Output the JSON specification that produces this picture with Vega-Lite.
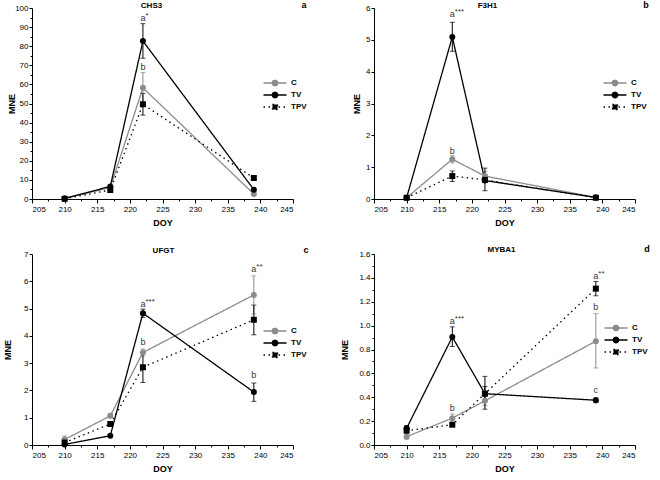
{
  "$schema": "https://vega.github.io/schema/vega-lite/v6.json",
  "padding": {"left": 3, "top": 1, "right": 0, "bottom": 0},
  "background": "white",
  "datasets": {
    "d": [
      {"gene": "CHS3", "series": "C", "doy": 210, "mne": 0.3},
      {"gene": "CHS3", "series": "C", "doy": 217, "mne": 6.0},
      {"gene": "CHS3", "series": "C", "doy": 222, "mne": 58.2, "lo": 50.2, "hi": 66.2},
      {"gene": "CHS3", "series": "C", "doy": 239, "mne": 2.6},
      {"gene": "CHS3", "series": "TV", "doy": 210, "mne": 0.3},
      {"gene": "CHS3", "series": "TV", "doy": 217, "mne": 6.6},
      {"gene": "CHS3", "series": "TV", "doy": 222, "mne": 82.7, "lo": 73.7, "hi": 91.8},
      {"gene": "CHS3", "series": "TV", "doy": 239, "mne": 4.9},
      {"gene": "CHS3", "series": "TPV", "doy": 210, "mne": 0.1},
      {"gene": "CHS3", "series": "TPV", "doy": 217, "mne": 4.7},
      {"gene": "CHS3", "series": "TPV", "doy": 222, "mne": 49.6, "lo": 43.9, "hi": 55.3},
      {"gene": "CHS3", "series": "TPV", "doy": 239, "mne": 11.0},
      {"gene": "F3H1", "series": "C", "doy": 210, "mne": 0.04},
      {"gene": "F3H1", "series": "C", "doy": 217, "mne": 1.25, "lo": 1.13, "hi": 1.36},
      {"gene": "F3H1", "series": "C", "doy": 222, "mne": 0.72, "lo": 0.58, "hi": 0.87},
      {"gene": "F3H1", "series": "C", "doy": 239, "mne": 0.05},
      {"gene": "F3H1", "series": "TV", "doy": 210, "mne": 0.04},
      {"gene": "F3H1", "series": "TV", "doy": 217, "mne": 5.09, "lo": 4.64, "hi": 5.55},
      {"gene": "F3H1", "series": "TV", "doy": 222, "mne": 0.58, "lo": 0.26, "hi": 0.97},
      {"gene": "F3H1", "series": "TV", "doy": 239, "mne": 0.05},
      {"gene": "F3H1", "series": "TPV", "doy": 210, "mne": 0.04},
      {"gene": "F3H1", "series": "TPV", "doy": 217, "mne": 0.72, "lo": 0.55, "hi": 0.88},
      {"gene": "F3H1", "series": "TPV", "doy": 222, "mne": 0.6},
      {"gene": "F3H1", "series": "TPV", "doy": 239, "mne": 0.04},
      {"gene": "UFGT", "series": "C", "doy": 210, "mne": 0.2, "lo": 0.07, "hi": 0.33},
      {"gene": "UFGT", "series": "C", "doy": 217, "mne": 1.07, "lo": 1.0, "hi": 1.14},
      {"gene": "UFGT", "series": "C", "doy": 222, "mne": 3.39, "lo": 3.26, "hi": 3.52},
      {"gene": "UFGT", "series": "C", "doy": 239, "mne": 5.5, "lo": 4.8, "hi": 6.2},
      {"gene": "UFGT", "series": "TV", "doy": 210, "mne": 0.02},
      {"gene": "UFGT", "series": "TV", "doy": 217, "mne": 0.34},
      {"gene": "UFGT", "series": "TV", "doy": 222, "mne": 4.83, "lo": 4.68, "hi": 4.98},
      {"gene": "UFGT", "series": "TV", "doy": 239, "mne": 1.94, "lo": 1.6, "hi": 2.27},
      {"gene": "UFGT", "series": "TPV", "doy": 210, "mne": 0.09},
      {"gene": "UFGT", "series": "TPV", "doy": 217, "mne": 0.77},
      {"gene": "UFGT", "series": "TPV", "doy": 222, "mne": 2.85, "lo": 2.29, "hi": 3.4},
      {"gene": "UFGT", "series": "TPV", "doy": 239, "mne": 4.59, "lo": 4.04, "hi": 5.13},
      {"gene": "MYBA1", "series": "C", "doy": 210, "mne": 0.07, "lo": 0.05, "hi": 0.09},
      {"gene": "MYBA1", "series": "C", "doy": 217, "mne": 0.225, "lo": 0.19, "hi": 0.26},
      {"gene": "MYBA1", "series": "C", "doy": 222, "mne": 0.37, "lo": 0.33, "hi": 0.41},
      {"gene": "MYBA1", "series": "C", "doy": 239, "mne": 0.87, "lo": 0.645, "hi": 1.1},
      {"gene": "MYBA1", "series": "TV", "doy": 210, "mne": 0.14, "lo": 0.12, "hi": 0.16},
      {"gene": "MYBA1", "series": "TV", "doy": 217, "mne": 0.905, "lo": 0.825, "hi": 0.99},
      {"gene": "MYBA1", "series": "TV", "doy": 222, "mne": 0.43, "lo": 0.37, "hi": 0.49},
      {"gene": "MYBA1", "series": "TV", "doy": 239, "mne": 0.375, "lo": 0.355, "hi": 0.395},
      {"gene": "MYBA1", "series": "TPV", "doy": 210, "mne": 0.12, "lo": 0.08, "hi": 0.16},
      {"gene": "MYBA1", "series": "TPV", "doy": 217, "mne": 0.17},
      {"gene": "MYBA1", "series": "TPV", "doy": 222, "mne": 0.43, "lo": 0.3, "hi": 0.575},
      {"gene": "MYBA1", "series": "TPV", "doy": 239, "mne": 1.31, "lo": 1.25, "hi": 1.37}
    ],
    "ann": [
      {"gene": "CHS3", "doy": 222, "ty": 94.8, "letter": "a", "stars": "*"},
      {"gene": "CHS3", "doy": 222, "ty": 69, "letter": "b", "stars": ""},
      {"gene": "F3H1", "doy": 217, "ty": 5.81, "letter": "a", "stars": "***"},
      {"gene": "F3H1", "doy": 217, "ty": 1.52, "letter": "b", "stars": ""},
      {"gene": "UFGT", "doy": 222, "ty": 5.17, "letter": "a", "stars": "***"},
      {"gene": "UFGT", "doy": 222, "ty": 3.76, "letter": "b", "stars": ""},
      {"gene": "UFGT", "doy": 239, "ty": 6.44, "letter": "a", "stars": "**"},
      {"gene": "UFGT", "doy": 239, "ty": 2.57, "letter": "b", "stars": ""},
      {"gene": "MYBA1", "doy": 217, "ty": 1.04, "letter": "a", "stars": "***"},
      {"gene": "MYBA1", "doy": 217, "ty": 0.31, "letter": "b", "stars": ""},
      {"gene": "MYBA1", "doy": 239, "ty": 1.415, "letter": "a", "stars": "**"},
      {"gene": "MYBA1", "doy": 239, "ty": 1.16, "letter": "b", "stars": ""},
      {"gene": "MYBA1", "doy": 239, "ty": 0.46, "letter": "c", "stars": ""}
    ]
  },
  "resolve": {
    "scale": {"color": "independent", "strokeDash": "independent"},
    "legend": {"color": "independent", "strokeDash": "independent"}
  },
  "spacing": 18,
  "vconcat": [
    {
      "spacing": 45,
      "resolve": {
        "scale": {"color": "independent", "strokeDash": "independent"},
        "legend": {"color": "independent", "strokeDash": "independent"}
      },
      "hconcat": [
        {
          "width": 261, "height": 191,
          "title": {"text": "CHS3", "dx": -11},
          "data": {"name": "d"},
          "layer": [
            {
              "transform": [{"filter": "datum.gene === 'CHS3'"}],
              "mark": {"type": "line", "strokeWidth": 1.3},
              "encoding": {
                "x": {"field": "doy", "type": "quantitative", "title": "DOY",
                  "scale": {"domain": [205, 245], "nice": false, "zero": false},
                  "axis": {"values": [205, 207.5, 210, 212.5, 215, 217.5, 220, 222.5, 225, 227.5, 230, 232.5, 235, 237.5, 240, 242.5, 245],
                    "format": "d", "tickCount": 100, "labelOverlap": false,
                    "labelExpr": "datum.value % 5 === 0 ? datum.label : ''",
                    "tickSize": {"condition": {"test": "datum.value % 5 === 0", "value": 4}, "value": 2}}},
                "y": {"field": "mne", "type": "quantitative", "title": "MNE",
                  "scale": {"domain": [0, 100], "nice": false},
                  "axis": {"values": [0, 5, 10, 15, 20, 25, 30, 35, 40, 45, 50, 55, 60, 65, 70, 75, 80, 85, 90, 95, 100],
                    "format": "d", "tickCount": 100, "labelOverlap": false,
                    "labelExpr": "datum.value % 10 === 0 ? datum.label : ''",
                    "tickSize": {"condition": {"test": "datum.value % 10 === 0", "value": 3}, "value": 2},
                    "titlePadding": -2}},
                "color": {"field": "series", "type": "nominal",
                  "scale": {"domain": ["C", "TV", "TPV"], "range": ["#8c8c8c", "#000000", "#000000"]},
                  "legend": {"title": null, "orient": "none", "legendX": 237, "legendY": 69,
                    "encode": {"symbols": {"update": {
                      "shape": [{"test": "datum.value === 'TPV'", "value": "M-2.3,0H2.3M-0.5,-0.5H0.5V0.5H-0.5Z"}, {"value": "M-2.3,0H2.3M-0.55,0A0.55,0.55,0,1,0,0.55,0A0.55,0.55,0,1,0,-0.55,0Z"}],
                      "fill": [{"test": "datum.value === 'C'", "value": "#8c8c8c"}, {"value": "#000000"}]}}}}},
                "strokeDash": {"field": "series", "type": "nominal",
                  "scale": {"domain": ["C", "TV", "TPV"], "range": [[1, 0], [1, 0], [1.5, 3.5]]},
                  "legend": {"title": null, "orient": "none", "legendX": 237, "legendY": 69}}
              }
            },
            {
              "transform": [{"filter": "datum.gene === 'CHS3' && isValid(datum.lo)"}],
              "mark": {"type": "errorbar", "ticks": true},
              "encoding": {
                "x": {"field": "doy", "type": "quantitative", "title": "DOY"},
                "y": {"field": "lo", "type": "quantitative", "title": "MNE"},
                "y2": {"field": "hi"},
                "color": {"field": "series", "type": "nominal", "legend": null}
              }
            },
            {
              "transform": [{"filter": "datum.gene === 'CHS3' && datum.series !== 'TPV'"}],
              "mark": {"type": "point", "shape": "circle", "filled": true, "opacity": 1, "size": 36},
              "encoding": {
                "x": {"field": "doy", "type": "quantitative", "title": "DOY"},
                "y": {"field": "mne", "type": "quantitative", "title": "MNE"},
                "color": {"field": "series", "type": "nominal", "legend": null}
              }
            },
            {
              "transform": [{"filter": "datum.gene === 'CHS3' && datum.series === 'TPV'"}],
              "mark": {"type": "point", "shape": "square", "filled": true, "opacity": 1, "size": 36, "color": "#000000"},
              "encoding": {
                "x": {"field": "doy", "type": "quantitative", "title": "DOY"},
                "y": {"field": "mne", "type": "quantitative", "title": "MNE"}
              }
            },
            {
              "data": {"name": "ann"},
              "transform": [{"filter": "datum.gene === 'CHS3'"}],
              "mark": {"type": "text", "font": "Liberation Sans", "fontSize": 9, "color": "#333333", "baseline": "middle"},
              "encoding": {
                "x": {"field": "doy", "type": "quantitative", "title": "DOY"},
                "y": {"field": "ty", "type": "quantitative", "title": "MNE"},
                "text": {"field": "letter"}
              }
            },
            {
              "data": {"name": "ann"},
              "transform": [{"filter": "datum.gene === 'CHS3' && datum.stars !== ''"}],
              "mark": {"type": "text", "font": "Liberation Sans", "fontSize": 8, "color": "#333333", "baseline": "middle", "align": "left", "dx": 2.5, "dy": -2},
              "encoding": {
                "x": {"field": "doy", "type": "quantitative", "title": "DOY"},
                "y": {"field": "ty", "type": "quantitative", "title": "MNE"},
                "text": {"field": "stars"}
              }
            },
            {
              "data": {"values": [{"panel": "a", "px": 245, "py": 100}]},
              "mark": {"type": "text", "font": "Liberation Sans", "fontSize": 9, "fontWeight": "bold", "color": "#000000", "baseline": "middle", "dx": 11, "dy": -3},
              "encoding": {
                "x": {"field": "px", "type": "quantitative", "title": "DOY"},
                "y": {"field": "py", "type": "quantitative", "title": "MNE"},
                "text": {"field": "panel"}
              }
            }
          ]
        },
        {
          "width": 261, "height": 191,
          "title": {"text": "F3H1", "dx": -17},
          "data": {"name": "d"},
          "layer": [
            {
              "transform": [{"filter": "datum.gene === 'F3H1'"}],
              "mark": {"type": "line", "strokeWidth": 1.3},
              "encoding": {
                "x": {"field": "doy", "type": "quantitative", "title": "DOY",
                  "scale": {"domain": [205, 245], "nice": false, "zero": false},
                  "axis": {"values": [205, 207.5, 210, 212.5, 215, 217.5, 220, 222.5, 225, 227.5, 230, 232.5, 235, 237.5, 240, 242.5, 245],
                    "format": "d", "tickCount": 100, "labelOverlap": false,
                    "labelExpr": "datum.value % 5 === 0 ? datum.label : ''",
                    "tickSize": {"condition": {"test": "datum.value % 5 === 0", "value": 4}, "value": 2}}},
                "y": {"field": "mne", "type": "quantitative", "title": "MNE",
                  "scale": {"domain": [0, 6], "nice": false},
                  "axis": {"values": [0, 0.5, 1, 1.5, 2, 2.5, 3, 3.5, 4, 4.5, 5, 5.5, 6],
                    "format": "d", "tickCount": 100, "labelOverlap": false,
                    "labelExpr": "datum.value % 1 === 0 ? datum.label : ''",
                    "tickSize": {"condition": {"test": "datum.value % 1 === 0", "value": 3}, "value": 2},
                    "titlePadding": 4}},
                "color": {"field": "series", "type": "nominal",
                  "scale": {"domain": ["C", "TV", "TPV"], "range": ["#8c8c8c", "#000000", "#000000"]},
                  "legend": {"title": null, "orient": "none", "legendX": 235, "legendY": 69,
                    "encode": {"symbols": {"update": {
                      "shape": [{"test": "datum.value === 'TPV'", "value": "M-2.3,0H2.3M-0.5,-0.5H0.5V0.5H-0.5Z"}, {"value": "M-2.3,0H2.3M-0.55,0A0.55,0.55,0,1,0,0.55,0A0.55,0.55,0,1,0,-0.55,0Z"}],
                      "fill": [{"test": "datum.value === 'C'", "value": "#8c8c8c"}, {"value": "#000000"}]}}}}},
                "strokeDash": {"field": "series", "type": "nominal",
                  "scale": {"domain": ["C", "TV", "TPV"], "range": [[1, 0], [1, 0], [1.5, 3.5]]},
                  "legend": {"title": null, "orient": "none", "legendX": 235, "legendY": 69}}
              }
            },
            {
              "transform": [{"filter": "datum.gene === 'F3H1' && isValid(datum.lo)"}],
              "mark": {"type": "errorbar", "ticks": true},
              "encoding": {
                "x": {"field": "doy", "type": "quantitative", "title": "DOY"},
                "y": {"field": "lo", "type": "quantitative", "title": "MNE"},
                "y2": {"field": "hi"},
                "color": {"field": "series", "type": "nominal", "legend": null}
              }
            },
            {
              "transform": [{"filter": "datum.gene === 'F3H1' && datum.series !== 'TPV'"}],
              "mark": {"type": "point", "shape": "circle", "filled": true, "opacity": 1, "size": 36},
              "encoding": {
                "x": {"field": "doy", "type": "quantitative", "title": "DOY"},
                "y": {"field": "mne", "type": "quantitative", "title": "MNE"},
                "color": {"field": "series", "type": "nominal", "legend": null}
              }
            },
            {
              "transform": [{"filter": "datum.gene === 'F3H1' && datum.series === 'TPV'"}],
              "mark": {"type": "point", "shape": "square", "filled": true, "opacity": 1, "size": 36, "color": "#000000"},
              "encoding": {
                "x": {"field": "doy", "type": "quantitative", "title": "DOY"},
                "y": {"field": "mne", "type": "quantitative", "title": "MNE"}
              }
            },
            {
              "data": {"name": "ann"},
              "transform": [{"filter": "datum.gene === 'F3H1'"}],
              "mark": {"type": "text", "font": "Liberation Sans", "fontSize": 9, "color": "#333333", "baseline": "middle"},
              "encoding": {
                "x": {"field": "doy", "type": "quantitative", "title": "DOY"},
                "y": {"field": "ty", "type": "quantitative", "title": "MNE"},
                "text": {"field": "letter"}
              }
            },
            {
              "data": {"name": "ann"},
              "transform": [{"filter": "datum.gene === 'F3H1' && datum.stars !== ''"}],
              "mark": {"type": "text", "font": "Liberation Sans", "fontSize": 8, "color": "#333333", "baseline": "middle", "align": "left", "dx": 2.5, "dy": -2},
              "encoding": {
                "x": {"field": "doy", "type": "quantitative", "title": "DOY"},
                "y": {"field": "ty", "type": "quantitative", "title": "MNE"},
                "text": {"field": "stars"}
              }
            },
            {
              "data": {"values": [{"panel": "b", "px": 245, "py": 6}]},
              "mark": {"type": "text", "font": "Liberation Sans", "fontSize": 9, "fontWeight": "bold", "color": "#000000", "baseline": "middle", "dx": 11, "dy": -3},
              "encoding": {
                "x": {"field": "px", "type": "quantitative", "title": "DOY"},
                "y": {"field": "py", "type": "quantitative", "title": "MNE"},
                "text": {"field": "panel"}
              }
            }
          ]
        }
      ]
    },
    {
      "spacing": 31,
      "resolve": {
        "scale": {"color": "independent", "strokeDash": "independent"},
        "legend": {"color": "independent", "strokeDash": "independent"}
      },
      "hconcat": [
        {
          "width": 261, "height": 191,
          "title": {"text": "UFGT", "dx": 1},
          "data": {"name": "d"},
          "layer": [
            {
              "transform": [{"filter": "datum.gene === 'UFGT'"}],
              "mark": {"type": "line", "strokeWidth": 1.3},
              "encoding": {
                "x": {"field": "doy", "type": "quantitative", "title": "DOY",
                  "scale": {"domain": [205, 245], "nice": false, "zero": false},
                  "axis": {"values": [205, 207.5, 210, 212.5, 215, 217.5, 220, 222.5, 225, 227.5, 230, 232.5, 235, 237.5, 240, 242.5, 245],
                    "format": "d", "tickCount": 100, "labelOverlap": false,
                    "labelExpr": "datum.value % 5 === 0 ? datum.label : ''",
                    "tickSize": {"condition": {"test": "datum.value % 5 === 0", "value": 4}, "value": 2}}},
                "y": {"field": "mne", "type": "quantitative", "title": "MNE",
                  "scale": {"domain": [0, 7], "nice": false},
                  "axis": {"values": [0, 0.5, 1, 1.5, 2, 2.5, 3, 3.5, 4, 4.5, 5, 5.5, 6, 6.5, 7],
                    "format": "d", "tickCount": 100, "labelOverlap": false,
                    "labelExpr": "datum.value % 1 === 0 ? datum.label : ''",
                    "tickSize": {"condition": {"test": "datum.value % 1 === 0", "value": 3}, "value": 2},
                    "titlePadding": 11}},
                "color": {"field": "series", "type": "nominal",
                  "scale": {"domain": ["C", "TV", "TPV"], "range": ["#8c8c8c", "#000000", "#000000"]},
                  "legend": {"title": null, "orient": "none", "legendX": 237, "legendY": 71,
                    "encode": {"symbols": {"update": {
                      "shape": [{"test": "datum.value === 'TPV'", "value": "M-2.3,0H2.3M-0.5,-0.5H0.5V0.5H-0.5Z"}, {"value": "M-2.3,0H2.3M-0.55,0A0.55,0.55,0,1,0,0.55,0A0.55,0.55,0,1,0,-0.55,0Z"}],
                      "fill": [{"test": "datum.value === 'C'", "value": "#8c8c8c"}, {"value": "#000000"}]}}}}},
                "strokeDash": {"field": "series", "type": "nominal",
                  "scale": {"domain": ["C", "TV", "TPV"], "range": [[1, 0], [1, 0], [1.5, 3.5]]},
                  "legend": {"title": null, "orient": "none", "legendX": 237, "legendY": 71}}
              }
            },
            {
              "transform": [{"filter": "datum.gene === 'UFGT' && isValid(datum.lo)"}],
              "mark": {"type": "errorbar", "ticks": true},
              "encoding": {
                "x": {"field": "doy", "type": "quantitative", "title": "DOY"},
                "y": {"field": "lo", "type": "quantitative", "title": "MNE"},
                "y2": {"field": "hi"},
                "color": {"field": "series", "type": "nominal", "legend": null}
              }
            },
            {
              "transform": [{"filter": "datum.gene === 'UFGT' && datum.series !== 'TPV'"}],
              "mark": {"type": "point", "shape": "circle", "filled": true, "opacity": 1, "size": 36},
              "encoding": {
                "x": {"field": "doy", "type": "quantitative", "title": "DOY"},
                "y": {"field": "mne", "type": "quantitative", "title": "MNE"},
                "color": {"field": "series", "type": "nominal", "legend": null}
              }
            },
            {
              "transform": [{"filter": "datum.gene === 'UFGT' && datum.series === 'TPV'"}],
              "mark": {"type": "point", "shape": "square", "filled": true, "opacity": 1, "size": 36, "color": "#000000"},
              "encoding": {
                "x": {"field": "doy", "type": "quantitative", "title": "DOY"},
                "y": {"field": "mne", "type": "quantitative", "title": "MNE"}
              }
            },
            {
              "data": {"name": "ann"},
              "transform": [{"filter": "datum.gene === 'UFGT'"}],
              "mark": {"type": "text", "font": "Liberation Sans", "fontSize": 9, "color": "#333333", "baseline": "middle"},
              "encoding": {
                "x": {"field": "doy", "type": "quantitative", "title": "DOY"},
                "y": {"field": "ty", "type": "quantitative", "title": "MNE"},
                "text": {"field": "letter"}
              }
            },
            {
              "data": {"name": "ann"},
              "transform": [{"filter": "datum.gene === 'UFGT' && datum.stars !== ''"}],
              "mark": {"type": "text", "font": "Liberation Sans", "fontSize": 8, "color": "#333333", "baseline": "middle", "align": "left", "dx": 2.5, "dy": -2},
              "encoding": {
                "x": {"field": "doy", "type": "quantitative", "title": "DOY"},
                "y": {"field": "ty", "type": "quantitative", "title": "MNE"},
                "text": {"field": "stars"}
              }
            },
            {
              "data": {"values": [{"panel": "c", "px": 245, "py": 7}]},
              "mark": {"type": "text", "font": "Liberation Sans", "fontSize": 9, "fontWeight": "bold", "color": "#000000", "baseline": "middle", "dx": 13, "dy": -4},
              "encoding": {
                "x": {"field": "px", "type": "quantitative", "title": "DOY"},
                "y": {"field": "py", "type": "quantitative", "title": "MNE"},
                "text": {"field": "panel"}
              }
            }
          ]
        },
        {
          "width": 261, "height": 191,
          "title": {"text": "MYBA1", "dx": -3},
          "data": {"name": "d"},
          "layer": [
            {
              "transform": [{"filter": "datum.gene === 'MYBA1'"}],
              "mark": {"type": "line", "strokeWidth": 1.3},
              "encoding": {
                "x": {"field": "doy", "type": "quantitative", "title": "DOY",
                  "scale": {"domain": [205, 245], "nice": false, "zero": false},
                  "axis": {"values": [205, 207.5, 210, 212.5, 215, 217.5, 220, 222.5, 225, 227.5, 230, 232.5, 235, 237.5, 240, 242.5, 245],
                    "format": "d", "tickCount": 100, "labelOverlap": false,
                    "labelExpr": "datum.value % 5 === 0 ? datum.label : ''",
                    "tickSize": {"condition": {"test": "datum.value % 5 === 0", "value": 4}, "value": 2}}},
                "y": {"field": "mne", "type": "quantitative", "title": "MNE",
                  "scale": {"domain": [0, 1.6], "nice": false},
                  "axis": {"values": [0, 0.1, 0.2, 0.3, 0.4, 0.5, 0.6, 0.7, 0.8, 0.9, 1.0, 1.1, 1.2, 1.3, 1.4, 1.5, 1.6],
                    "format": ".1f", "tickCount": 100, "labelOverlap": false,
                    "labelExpr": "round(datum.value * 10) % 2 === 0 ? datum.label : ''",
                    "tickSize": {"condition": {"test": "round(datum.value * 10) % 2 === 0", "value": 3}, "value": 2},
                    "titlePadding": 9}},
                "color": {"field": "series", "type": "nominal",
                  "scale": {"domain": ["C", "TV", "TPV"], "range": ["#8c8c8c", "#000000", "#000000"]},
                  "legend": {"title": null, "orient": "none", "legendX": 236, "legendY": 68,
                    "encode": {"symbols": {"update": {
                      "shape": [{"test": "datum.value === 'TPV'", "value": "M-2.3,0H2.3M-0.5,-0.5H0.5V0.5H-0.5Z"}, {"value": "M-2.3,0H2.3M-0.55,0A0.55,0.55,0,1,0,0.55,0A0.55,0.55,0,1,0,-0.55,0Z"}],
                      "fill": [{"test": "datum.value === 'C'", "value": "#8c8c8c"}, {"value": "#000000"}]}}}}},
                "strokeDash": {"field": "series", "type": "nominal",
                  "scale": {"domain": ["C", "TV", "TPV"], "range": [[1, 0], [1, 0], [1.5, 3.5]]},
                  "legend": {"title": null, "orient": "none", "legendX": 236, "legendY": 68}}
              }
            },
            {
              "transform": [{"filter": "datum.gene === 'MYBA1' && isValid(datum.lo)"}],
              "mark": {"type": "errorbar", "ticks": true},
              "encoding": {
                "x": {"field": "doy", "type": "quantitative", "title": "DOY"},
                "y": {"field": "lo", "type": "quantitative", "title": "MNE"},
                "y2": {"field": "hi"},
                "color": {"field": "series", "type": "nominal", "legend": null}
              }
            },
            {
              "transform": [{"filter": "datum.gene === 'MYBA1' && datum.series !== 'TPV'"}],
              "mark": {"type": "point", "shape": "circle", "filled": true, "opacity": 1, "size": 36},
              "encoding": {
                "x": {"field": "doy", "type": "quantitative", "title": "DOY"},
                "y": {"field": "mne", "type": "quantitative", "title": "MNE"},
                "color": {"field": "series", "type": "nominal", "legend": null}
              }
            },
            {
              "transform": [{"filter": "datum.gene === 'MYBA1' && datum.series === 'TPV'"}],
              "mark": {"type": "point", "shape": "square", "filled": true, "opacity": 1, "size": 36, "color": "#000000"},
              "encoding": {
                "x": {"field": "doy", "type": "quantitative", "title": "DOY"},
                "y": {"field": "mne", "type": "quantitative", "title": "MNE"}
              }
            },
            {
              "data": {"name": "ann"},
              "transform": [{"filter": "datum.gene === 'MYBA1'"}],
              "mark": {"type": "text", "font": "Liberation Sans", "fontSize": 9, "color": "#333333", "baseline": "middle"},
              "encoding": {
                "x": {"field": "doy", "type": "quantitative", "title": "DOY"},
                "y": {"field": "ty", "type": "quantitative", "title": "MNE"},
                "text": {"field": "letter"}
              }
            },
            {
              "data": {"name": "ann"},
              "transform": [{"filter": "datum.gene === 'MYBA1' && datum.stars !== ''"}],
              "mark": {"type": "text", "font": "Liberation Sans", "fontSize": 8, "color": "#333333", "baseline": "middle", "align": "left", "dx": 2.5, "dy": -2},
              "encoding": {
                "x": {"field": "doy", "type": "quantitative", "title": "DOY"},
                "y": {"field": "ty", "type": "quantitative", "title": "MNE"},
                "text": {"field": "stars"}
              }
            },
            {
              "data": {"values": [{"panel": "d", "px": 245, "py": 1.6}]},
              "mark": {"type": "text", "font": "Liberation Sans", "fontSize": 9, "fontWeight": "bold", "color": "#000000", "baseline": "middle", "dx": 12, "dy": -5},
              "encoding": {
                "x": {"field": "px", "type": "quantitative", "title": "DOY"},
                "y": {"field": "py", "type": "quantitative", "title": "MNE"},
                "text": {"field": "panel"}
              }
            }
          ]
        }
      ]
    }
  ],
  "config": {
    "view": {"stroke": null},
    "font": "Liberation Sans",
    "title": {"font": "Liberation Sans", "fontSize": 8, "fontWeight": "bold", "color": "#000000", "offset": -9, "frame": "group", "anchor": "middle"},
    "axis": {
      "grid": false, "domainColor": "#000000", "tickColor": "#000000", "labelColor": "#000000", "titleColor": "#000000",
      "labelFont": "Liberation Sans", "labelFontSize": 8, "titleFont": "Liberation Sans", "titleFontSize": 9, "titleFontWeight": "bold",
      "domainWidth": 1, "tickWidth": 1, "labelOverlap": false
    },
    "axisX": {"labelPadding": 2, "titlePadding": 5},
    "axisY": {"labelPadding": 1},
    "legend": {"labelFont": "Liberation Sans", "labelFontSize": 8, "labelFontWeight": "bold", "labelColor": "#000000",
      "symbolSize": 100, "symbolStrokeWidth": 1.3, "labelOffset": 10, "rowPadding": 0, "padding": 0}
  }
}
